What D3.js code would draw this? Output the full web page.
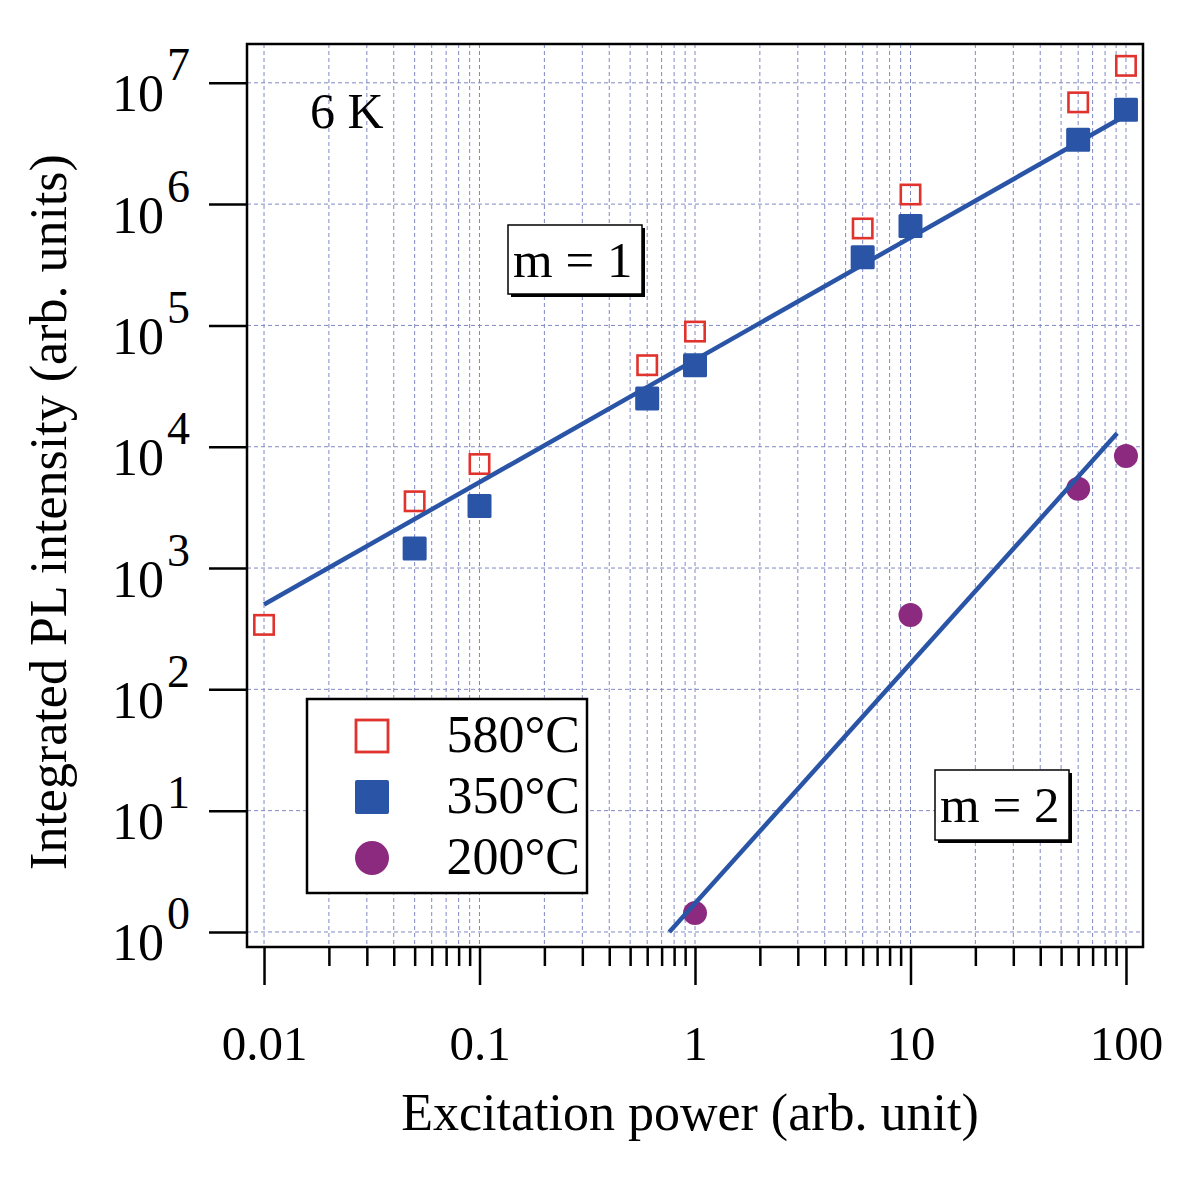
<!DOCTYPE html>
<html><head><meta charset="utf-8">
<script src="https://cdn.jsdelivr.net/npm/d3@7"></script>
<style>
body{margin:0;background:#fff;}
svg{display:block;}
svg text{font-family:"Liberation Serif","Times New Roman",serif;}
</style></head>
<body><svg id="c" width="1200" height="1185"></svg>
<script>
// ---- data ----
const power = [0.01, 0.05, 0.1, 0.6, 1, 6, 10, 60, 100];
const s580 = [340, 3550, 7200, 47000, 89000, 630000, 1200000, 6900000, 13800000];
const powerB = [0.05, 0.1, 0.6, 1, 6, 10, 60, 100];
const s350 = [1450, 3250, 25000, 47000, 365000, 660000, 3400000, 6000000];
const powerC = [1, 10, 60, 100];
const s200 = [1.43, 410, 4500, 8400];
const fit1X = [0.01, 100];
const fit1Y = [500, 5400000];
const fit2X = [0.76, 91];
const fit2Y = [1.0, 12900];
const xMajor = [0.01, 0.1, 1, 10, 100];
const xMajorLabels = ["0.01", "0.1", "1", "10", "100"];
const yDecades = [0, 1, 2, 3, 4, 5, 6, 7];
const seriesNames = ["580°C", "350°C", "200°C"];

const red = "#e0332e", blue = "#2a55a7", purple = "#8c2a80", gridC = "#8088c4";

const svg = d3.select("#c");
const L = 247, R = 1143, T = 44, B = 947;
const x = d3.scaleLog().domain([Math.pow(10, -2.079), Math.pow(10, 2.079)]).range([L, R]);
const y = d3.scaleLog().domain([Math.pow(10, -0.124), Math.pow(10, 7.32)]).range([B, T]);

// minor x values
const xAll = [];
for (let e = -2; e <= 1; e++) for (let k = 1; k <= 9; k++) xAll.push(k * Math.pow(10, e));
xAll.push(100);
const xMinor = xAll.filter(v => !xMajor.some(m => Math.abs(m - v) / m < 1e-6));

// grid
const grid = svg.append("g");
grid.selectAll("line.v").data(xAll).join("line")
  .attr("x1", d => x(d)).attr("x2", d => x(d)).attr("y1", T).attr("y2", B)
  .attr("stroke", gridC).attr("stroke-width", 1).attr("stroke-dasharray", "4,3");
grid.selectAll("line.h").data(yDecades).join("line")
  .attr("x1", L).attr("x2", R).attr("y1", d => y(Math.pow(10, d))).attr("y2", d => y(Math.pow(10, d)))
  .attr("stroke", gridC).attr("stroke-width", 1).attr("stroke-dasharray", "4,3");

// x axes
const gxMinor = svg.append("g").attr("transform", `translate(0,${B})`)
  .call(d3.axisBottom(x).tickValues(xMinor).tickSize(19).tickFormat(""));
const gxMajor = svg.append("g").attr("transform", `translate(0,${B})`)
  .call(d3.axisBottom(x).tickValues(xMajor).tickSize(38).tickPadding(40)
    .tickFormat((d, i) => xMajorLabels[i]));
[gxMinor, gxMajor].forEach(g => {
  g.attr("font-family", null).attr("font-size", null);
  g.select(".domain").remove();
  g.selectAll(".tick line").attr("stroke", "#000").attr("stroke-width", 2.5);
});
gxMajor.selectAll(".tick text").attr("font-size", 49).attr("fill", "#000");

// y axis
const gy = svg.append("g").attr("transform", `translate(${L},0)`)
  .call(d3.axisLeft(y).tickValues(yDecades.map(d => Math.pow(10, d))).tickSize(38).tickFormat(""));
gy.attr("font-family", null).attr("font-size", null);
gy.select(".domain").remove();
gy.selectAll(".tick line").attr("stroke", "#000").attr("stroke-width", 2.5);
gy.selectAll(".tick").each(function (d, i) {
  const g = d3.select(this);
  g.append("text").attr("x", 164 - L).attr("y", 28).attr("text-anchor", "end")
    .attr("font-size", 52).attr("fill", "#000").text("10");
  g.append("text").attr("x", 167 - L).attr("y", -3).attr("text-anchor", "start")
    .attr("font-size", 46).attr("fill", "#000").text(String(yDecades[i]));
});

// frame
svg.append("rect").attr("x", L).attr("y", T).attr("width", R - L).attr("height", B - T)
  .attr("fill", "none").attr("stroke", "#000").attr("stroke-width", 2.5);

// markers
const plot = svg.append("g");
const sq = 22, sqB = 24;
plot.selectAll("rect.r").data(power.map((p, i) => [p, s580[i]])).join("rect")
  .attr("x", d => x(d[0]) - sq / 2 + 1.3).attr("y", d => y(d[1]) - sq / 2 + 1.3)
  .attr("width", sq - 2.6).attr("height", sq - 2.6)
  .attr("fill", "none").attr("stroke", red).attr("stroke-width", 2.6);
plot.selectAll("rect.b").data(powerB.map((p, i) => [p, s350[i]])).join("rect")
  .attr("x", d => x(d[0]) - sqB / 2).attr("y", d => y(d[1]) - sqB / 2)
  .attr("width", sqB).attr("height", sqB).attr("rx", 1.5).attr("fill", blue);
plot.selectAll("circle.p").data(powerC.map((p, i) => [p, s200[i]])).join("circle")
  .attr("cx", d => x(d[0])).attr("cy", d => y(d[1])).attr("r", 12).attr("fill", purple);

// fit lines
const line = d3.line().x(d => x(d[0])).y(d => y(d[1]));
[[fit1X, fit1Y], [fit2X, fit2Y]].forEach(([fx, fy]) => {
  svg.append("path").datum(fx.map((v, i) => [v, fy[i]])).attr("d", line)
    .attr("fill", "none").attr("stroke", blue).attr("stroke-width", 4.5);
});

// annotations
svg.append("text").attr("x", 310).attr("y", 128).attr("font-size", 50).text("6 K");
function boxLabel(bx, by, bw, bh, tx, ty, txt) {
  svg.append("rect").attr("x", bx + 3).attr("y", by + 3).attr("width", bw).attr("height", bh).attr("fill", "#000");
  svg.append("rect").attr("x", bx).attr("y", by).attr("width", bw).attr("height", bh)
    .attr("fill", "#fff").attr("stroke", "#000").attr("stroke-width", 1.5);
  svg.append("text").attr("x", tx).attr("y", ty).attr("font-size", 51).text(txt);
}
boxLabel(508, 225, 134, 69, 513, 277, "m = 1");
boxLabel(935, 770, 134, 70, 940, 822, "m = 2");

// legend
const lg = svg.append("g");
lg.append("rect").attr("x", 307).attr("y", 699).attr("width", 280).attr("height", 194)
  .attr("fill", "#fff").attr("stroke", "#000").attr("stroke-width", 2.5);
const ly = [736, 797, 858];
lg.append("rect").attr("x", 372 - 16).attr("y", ly[0] - 16).attr("width", 32).attr("height", 32)
  .attr("fill", "none").attr("stroke", red).attr("stroke-width", 2.8);
lg.append("rect").attr("x", 372 - 17).attr("y", ly[1] - 17).attr("width", 34).attr("height", 34)
  .attr("rx", 2).attr("fill", blue);
lg.append("circle").attr("cx", 372).attr("cy", ly[2]).attr("r", 17).attr("fill", purple);
seriesNames.forEach((n, i) => {
  lg.append("text").attr("x", 580).attr("y", ly[i] + 16).attr("text-anchor", "end")
    .attr("font-size", 52).text(n);
});

// axis titles
svg.append("text").attr("x", 690).attr("y", 1130).attr("text-anchor", "middle")
  .attr("font-size", 52).text("Excitation power (arb. unit)");
svg.append("text").attr("transform", "translate(66,512) rotate(-90)").attr("text-anchor", "middle")
  .attr("font-size", 52).text("Integrated PL intensity (arb. units)");
</script></body></html>
